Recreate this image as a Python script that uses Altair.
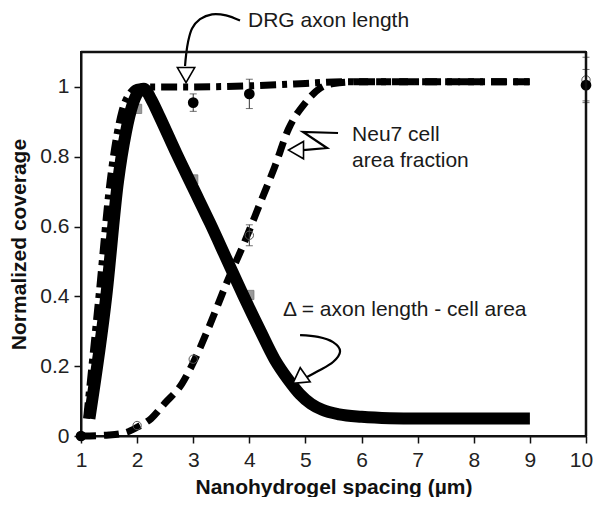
import altair as alt
import pandas as pd

# ---- fitted curves ----
drg_x = [1.10, 1.32, 1.52, 1.73, 1.86, 2.03, 2.5, 3.0, 4.0, 5.0, 5.5, 6.0, 7.0, 8.0, 9.0]
drg_y = [0.05, 0.40, 0.73, 0.93, 0.98, 1.00, 1.00, 1.00, 1.003, 1.01, 1.014, 1.015, 1.015, 1.015, 1.015]

neu_x = [1.0, 1.5, 1.8, 2.0, 2.25, 2.5, 2.8, 3.0, 3.3, 3.6, 3.9, 4.2, 4.45, 4.7, 5.0, 5.25, 5.5, 6.0, 7.0, 8.0, 9.0]
neu_y = [0.0, 0.003, 0.01, 0.025, 0.05, 0.095, 0.15, 0.21, 0.32, 0.44, 0.55, 0.67, 0.77, 0.88, 0.955, 0.995, 1.01, 1.015, 1.015, 1.015, 1.015]

delta_x = [1.15, 1.45, 1.66, 1.80, 1.92, 2.02, 2.12, 2.25, 2.4, 2.7, 3.0, 3.3, 3.6, 3.9, 4.2, 4.45, 4.7, 4.9, 5.1, 5.3, 5.6, 6.0, 6.5, 7.0, 8.0, 9.0]
delta_y = [0.05, 0.40, 0.73, 0.87, 0.95, 0.985, 0.995, 0.965, 0.915, 0.81, 0.71, 0.61, 0.505, 0.40, 0.30, 0.22, 0.16, 0.12, 0.092, 0.075, 0.062, 0.055, 0.051, 0.05, 0.05, 0.05]

# ---- measured points ----
drg_pts_x = [1, 3, 4, 10]
drg_pts_y = [0.0, 0.955, 0.98, 1.005]
drg_err = [0.0, 0.025, 0.042, 0.045]

neu_pts_x = [1, 2, 3, 4, 10]
neu_pts_y = [0.0, 0.03, 0.22, 0.575, 1.02]
neu_err = [0.0, 0.0, 0.0, 0.03, 0.065]

delta_pts_x = [2, 3, 4]
delta_pts_y = [0.937, 0.735, 0.404]

# ---- annotations ----
drg_arrow_x = [3.834, 3.585, 3.335, 3.121, 2.979, 2.907, 2.872, 2.854]
drg_arrow_y = [1.190, 1.205, 1.208, 1.194, 1.167, 1.128, 1.090, 1.060]
neu_arrow_x = [5.581, 4.957, 5.385, 4.957]
neu_arrow_y = [0.868, 0.871, 0.825, 0.819]
del_arrow_x = [4.904, 5.225, 5.492, 5.617, 5.492, 5.225, 5.029]
del_arrow_y = [0.289, 0.284, 0.269, 0.243, 0.212, 0.186, 0.169]
head_x = [2.872, 4.832, 4.886]
head_y = [1.034, 0.819, 0.163]
head_angle = [180, 270, 235]

label_text = ["DRG axon length", "Neu7 cell", "area fraction", "\u0394 = axon length - cell area"]
label_x = [3.977, 5.831, 5.831, 4.601]
label_y = [1.190, 0.862, 0.788, 0.361]

x_ticks = [1, 2, 3, 4, 5, 6, 7, 8, 9, 10]
y_ticks = [0, 0.2, 0.4, 0.6, 0.8, 1.0]
x_dom = [1, 10]
y_dom = [0, 1.1]

FONT = "Liberation Sans"
XT = "Nanohydrogel spacing (\u00b5m)"
YT = "Normalized coverage"
xscale = alt.Scale(domain=x_dom, nice=False, zero=False)
yscale = alt.Scale(domain=y_dom, nice=False, zero=False)
xaxis = alt.Axis(
    values=x_ticks, format="d", grid=False, title=XT, titlePadding=6, labelFlush=False,
    labelOffset={"condition": {"test": "datum.value == 10", "value": -5}, "value": 0},
)
yaxis = alt.Axis(values=y_ticks, format=".1~f", grid=False, title=YT, titlePadding=10, labelFlush=False)


def X(f="x"):
    return alt.X(f"{f}:Q", scale=xscale, axis=xaxis, title=XT)


def Y(f="y"):
    return alt.Y(f"{f}:Q", scale=yscale, axis=yaxis, title=YT)


def curve(xs, ys):
    return pd.DataFrame({"x": xs, "y": ys, "i": list(range(len(xs)))})


squares = alt.Chart(curve(delta_pts_x, delta_pts_y)).mark_point(
    shape="square", filled=True, fill="#9a9a9a", stroke="#777777", strokeWidth=0.8, size=85, opacity=1
).encode(x=X(), y=Y())

neu_line = alt.Chart(curve(neu_x, neu_y)).mark_line(
    color="black", strokeWidth=7, strokeDash=[15, 8], interpolate="monotone", strokeCap="butt"
).encode(x=X(), y=Y(), order="i:Q")

drg_line = alt.Chart(curve(drg_x, drg_y)).mark_line(
    color="black", strokeWidth=7, strokeDash=[16, 6, 5, 6], interpolate="monotone", strokeCap="butt"
).encode(x=X(), y=Y(), order="i:Q")

delta_line = alt.Chart(curve(delta_x, delta_y)).mark_line(
    color="black", strokeWidth=12, interpolate="monotone", strokeCap="butt"
).encode(x=X(), y=Y(), order="i:Q")

err_rows = []
for xs, ys, es in [(drg_pts_x, drg_pts_y, drg_err), (neu_pts_x, neu_pts_y, neu_err)]:
    for a, b, e in zip(xs, ys, es):
        if e > 0:
            err_rows.append({"x": a, "lo": b - e, "hi": b + e})
errbars = alt.Chart(pd.DataFrame(err_rows)).mark_errorbar(
    ticks=True, size=7, thickness=1, color="#333333"
).encode(x=X(), y=Y("lo"), y2="hi:Q")

open_pts = alt.Chart(curve(neu_pts_x, neu_pts_y)).mark_point(
    shape="circle", filled=False, stroke="#555555", strokeWidth=1, size=70, opacity=1
).encode(x=X(), y=Y())

filled_pts = alt.Chart(curve(drg_pts_x, drg_pts_y)).mark_point(
    shape="circle", filled=True, fill="black", size=115, opacity=1
).encode(x=X(), y=Y())

drg_arrow = alt.Chart(curve(drg_arrow_x, drg_arrow_y)).mark_line(
    color="black", strokeWidth=2.2, interpolate="cardinal"
).encode(x=X(), y=Y(), order="i:Q")
neu_arrow = alt.Chart(curve(neu_arrow_x, neu_arrow_y)).mark_line(
    color="black", strokeWidth=2.2, interpolate="linear"
).encode(x=X(), y=Y(), order="i:Q")
del_arrow = alt.Chart(curve(del_arrow_x, del_arrow_y)).mark_line(
    color="black", strokeWidth=2.2, interpolate="cardinal"
).encode(x=X(), y=Y(), order="i:Q")

heads = alt.Chart(pd.DataFrame({"x": head_x, "y": head_y, "a": head_angle})).mark_point(
    shape="triangle-up", filled=True, fill="white", stroke="black", strokeWidth=1.6, size=300, opacity=1
).encode(x=X(), y=Y(), angle=alt.Angle("a:Q", scale=None))

labels = alt.Chart(pd.DataFrame({"x": label_x, "y": label_y, "t": label_text})).mark_text(
    align="left", baseline="middle", font=FONT, fontSize=21, color="#1a1a1a"
).encode(x=X(), y=Y(), text="t:N")

# frame (top and right edges of the plot box)
frame_pts = pd.DataFrame({"x": [x_dom[0], x_dom[1]], "y": [y_dom[1], y_dom[1]],
                          "x2": [x_dom[1], x_dom[1]], "y2": [y_dom[1], y_dom[0]]})
frame = alt.Chart(frame_pts).mark_rule(
    color="#111111", strokeWidth=2.5
).encode(x=X(), y=Y(), x2="x2:Q", y2="y2:Q")

chart = alt.layer(
    squares, neu_line, drg_line, delta_line, errbars, open_pts, filled_pts,
    drg_arrow, neu_arrow, del_arrow, heads, labels, frame
).properties(
    width=505, height=384,
    autosize=alt.AutoSizeParams(type="none"),
    padding={"left": 73, "top": 44, "right": 7, "bottom": 61},
).configure_view(
    stroke="#111111", strokeWidth=2
).configure_axis(
    domainColor="#111111", domainWidth=2, tickColor="#111111", tickWidth=1.5, tickSize=7,
    labelFont=FONT, labelFontSize=21, labelColor="#222222", labelPadding=5,
    titleFont=FONT, titleFontSize=21, titleFontWeight="bold", titleColor="#111111"
).configure_axisX(labelPadding=6)

chart.save("out.html", embed_options={"renderer": "svg", "actions": False})
